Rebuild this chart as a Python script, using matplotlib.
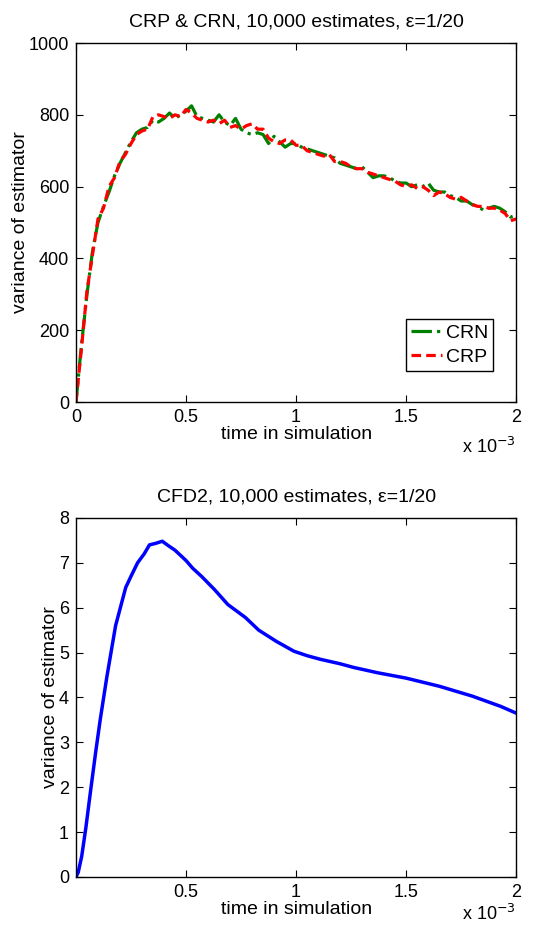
'''Variance of estimator for CRP/CRN and CFD2, MATLAB-style figure'''
import numpy as np
from matplotlib import pyplot as plt

# time axis in ms (scaled by 1e-3 when drawn)
crn_var = [0, 160, 300, 420, 500, 545, 585, 630, 665, 695, 725, 750, 760, 765, 785,
           780, 790, 805, 790, 800, 810, 825, 795, 790, 785, 780, 800, 780, 770, 790,
           760, 750, 745, 750, 745, 720, 740, 725, 710, 720, 720, 710, 705, 700, 695,
           690, 685, 680, 665, 660, 655, 650, 655, 640, 625, 630, 630, 625, 615, 610,
           610, 600, 605, 600, 610, 590, 585, 585, 575, 570, 560, 560, 550, 545, 535,
           540, 545, 540, 530, 515, 520]
crp_var = [0, 150, 310, 410, 510, 540, 600, 625, 670, 690, 720, 745, 755, 760, 795,
           800, 795, 790, 800, 795, 815, 805, 790, 785, 780, 785, 775, 785, 765, 770,
           760, 770, 775, 760, 760, 735, 725, 720, 730, 730, 715, 715, 700, 695, 690,
           685, 690, 670, 670, 665, 655, 650, 650, 640, 635, 630, 625, 620, 615, 605,
           600, 605, 595, 600, 590, 575, 585, 580, 570, 565, 570, 560, 550, 545, 545,
           540, 540, 535, 525, 505, 510]

cfd_t = [0, 0.01, 0.026, 0.045, 0.065, 0.09, 0.11, 0.14, 0.18, 0.226, 0.25, 0.28,
         0.31, 0.334, 0.36, 0.392, 0.42, 0.45, 0.5, 0.53, 0.57, 0.63, 0.69, 0.77,
         0.83, 0.91, 0.99, 1.05, 1.11, 1.2, 1.26, 1.37, 1.5, 1.65, 1.8, 1.93, 2.0]
cfd_var = [0, 0.1, 0.46, 1.1, 1.87, 2.8, 3.5, 4.45, 5.6, 6.45, 6.7, 7.0, 7.2, 7.4,
           7.43, 7.48, 7.38, 7.28, 7.05, 6.88, 6.7, 6.4, 6.07, 5.78, 5.5, 5.25, 5.03,
           4.93, 4.85, 4.75, 4.67, 4.55, 4.43, 4.25, 4.03, 3.8, 3.65]

x_ticks = [0, 0.5, 1, 1.5, 2]
x_tick_labels = ['0', '0.5', '1', '1.5', '2']

plt.rcParams['font.family'] = ['Liberation Sans', 'DejaVu Sans']
FS = 13
LFS = 14

fig = plt.figure(figsize=(5.53, 9.27), dpi=100)
ax1 = fig.add_axes([0.1374, 0.5663, 0.796, 0.3873])
ax2 = fig.add_axes([0.1374, 0.0540, 0.796, 0.3873])

t = np.linspace(0, 2e-3, len(crn_var))
ax1.plot(t, crn_var, '-.', color=(0, 0.5, 0), lw=2.3, label='CRN')
ax1.plot(t, crp_var, '--', color='red', lw=2.3, label='CRP',
         dashes=(3, 1.6))
ax1.set_ylim(0, 1000)
ax1.set_yticks(range(0, 1001, 200))
ax1.set_title('CRP & CRN, 10,000 estimates, \u03b5=1/20', fontsize=LFS, pad=12)
leg = ax1.legend(loc='lower right', bbox_to_anchor=(0.948, 0.086),
                 fontsize=LFS, fancybox=False, edgecolor='black',
                 framealpha=1, borderaxespad=0, handlelength=1.6,
                 handletextpad=0.2, borderpad=0.25, labelspacing=0.35)
leg.get_frame().set_linewidth(1.0)

ax2.plot(np.array(cfd_t) * 1e-3, cfd_var, '-', color='blue', lw=2.5)
ax2.set_ylim(0, 8)
ax2.set_yticks(range(0, 9))
ax2.set_title('CFD2, 10,000 estimates, \u03b5=1/20', fontsize=LFS, pad=12)

for ax, first in ((ax1, True), (ax2, False)):
    ax.set_xlim(0, 2e-3)
    ticks = [v * 1e-3 for v in x_ticks]
    labels = list(x_tick_labels)
    if not first:
        ticks, labels = ticks[1:], labels[1:]
    ax.set_xticks(ticks)
    ax.set_xticklabels(labels)
    ax.tick_params(direction='in', top=True, right=True, labelsize=FS,
                   length=5, width=0.8, pad=5)
    ax.set_xlabel('time in simulation', fontsize=LFS, labelpad=0)
    ax.set_ylabel('variance of estimator', fontsize=LFS, labelpad=0)
    if first:
        ax.text(1.0, -0.125, 'x 10$^{-3}$', transform=ax.transAxes,
                ha='right', va='center', fontsize=FS)
    else:
        ax.text(1.0, -0.13, 'x 10$^{-3}$', transform=ax.transAxes,
                ha='right', va='bottom', fontsize=FS)
    for spine in ax.spines.values():
        spine.set_linewidth(1.0)

fig.savefig('out.png', dpi=100)
